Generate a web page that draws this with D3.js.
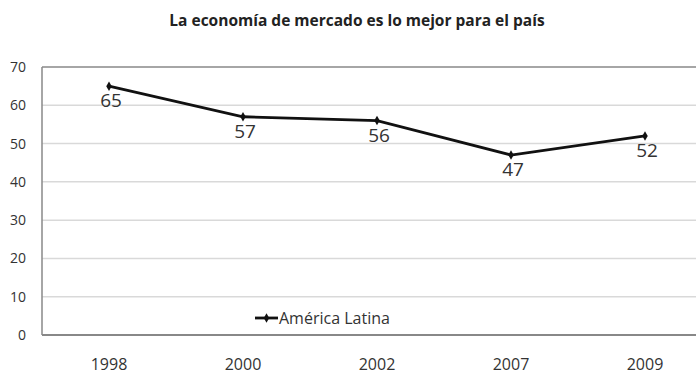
<!DOCTYPE html>
<html>
<head>
<meta charset="utf-8">
<script src="https://cdn.jsdelivr.net/npm/d3@7"></script>
<style>
  body { margin: 0; background: #fff; }
  svg { display: block; font-family: "Open Sans", "DejaVu Sans", sans-serif; }
</style>
</head>
<body>
<div id="chart"></div>
<script>
const years = ['1998', '2000', '2002', '2007', '2009']
const values = [65, 57, 56, 47, 52]
const yTicks = [0, 10, 20, 30, 40, 50, 60, 70]
const seriesName = 'América Latina'
const title = 'La economía de mercado es lo mejor para el país'

let width = 696, height = 374

let svg = d3.select('#chart').append('svg')
    .attr('width', width)
    .attr('height', height)

let plotLeft = 42, plotTop = 67, plotBottom = 335

let x = d3.scaleBand()
    .domain(years)
    .range([plotLeft, plotLeft + 134 * years.length])

let y = d3.scaleLinear()
    .domain([0, 70])
    .range([plotBottom, plotTop])

svg.append('text')
    .attr('x', 357)
    .attr('y', 26)
    .attr('text-anchor', 'middle')
    .attr('font-size', 15.5)
    .attr('font-weight', 'bold')
    .attr('fill', '#222')
    .text(title)

// gridlines
svg.append('g')
    .selectAll('line')
    .data(yTicks.filter(d => d > 0 && d < 70))
    .enter()
    .append('line')
    .attr('x1', plotLeft)
    .attr('x2', width)
    .attr('y1', d => y(d))
    .attr('y2', d => y(d))
    .attr('stroke', '#d9d9d9')
    .attr('stroke-width', 1.5)

// plot border top + left, bottom axis
svg.append('line')
    .attr('x1', plotLeft).attr('x2', width)
    .attr('y1', y(70)).attr('y2', y(70))
    .attr('stroke', '#888').attr('stroke-width', 1.5)

svg.append('line')
    .attr('x1', plotLeft).attr('x2', plotLeft)
    .attr('y1', y(70)).attr('y2', y(0))
    .attr('stroke', '#888').attr('stroke-width', 1.5)

svg.append('line')
    .attr('x1', plotLeft).attr('x2', width)
    .attr('y1', y(0)).attr('y2', y(0))
    .attr('stroke', '#888').attr('stroke-width', 2)

// y tick labels
svg.append('g')
    .selectAll('text')
    .data(yTicks)
    .enter()
    .append('text')
    .attr('x', 26)
    .attr('y', d => y(d) + 5)
    .attr('text-anchor', 'end')
    .attr('font-size', 14)
    .attr('fill', '#333')
    .text(d => d)

// x labels
svg.append('g')
    .selectAll('text')
    .data(years)
    .enter()
    .append('text')
    .attr('x', d => x(d) + x.bandwidth() / 2)
    .attr('y', 370)
    .attr('text-anchor', 'middle')
    .attr('font-size', 16)
    .attr('fill', '#333')
    .text(d => d)

let pts = years.map((d, i) => ({year: d, value: values[i]}))

let line = d3.line()
    .x(d => x(d.year) + x.bandwidth() / 2)
    .y(d => y(d.value))

svg.append('path')
    .datum(pts)
    .attr('d', line)
    .attr('fill', 'none')
    .attr('stroke', '#111')
    .attr('stroke-width', 2.8)

svg.append('g')
    .selectAll('path')
    .data(pts)
    .enter()
    .append('path')
    .attr('d', d3.symbol().type(d3.symbolDiamond).size(26))
    .attr('transform', d => 'translate(' + (x(d.year) + x.bandwidth() / 2) + ',' + y(d.value) + ')')
    .attr('fill', '#111')

svg.append('g')
    .selectAll('text')
    .data(pts)
    .enter()
    .append('text')
    .attr('x', d => x(d.year) + x.bandwidth() / 2 + 2)
    .attr('y', d => y(d.value) + 21)
    .attr('text-anchor', 'middle')
    .attr('font-size', 19)
    .attr('fill', '#333')
    .text(d => d.value)

// legend
let legend = svg.append('g').attr('transform', 'translate(255,318)')

legend.append('line')
    .attr('x1', 0).attr('x2', 23)
    .attr('stroke', '#111').attr('stroke-width', 2.8)

legend.append('path')
    .attr('d', d3.symbol().type(d3.symbolDiamond).size(26))
    .attr('transform', 'translate(11.5,0)')
    .attr('fill', '#111')

legend.append('text')
    .attr('x', 24)
    .attr('y', 6)
    .attr('font-size', 16)
    .attr('fill', '#333')
    .text(seriesName)
</script>
</body>
</html>
